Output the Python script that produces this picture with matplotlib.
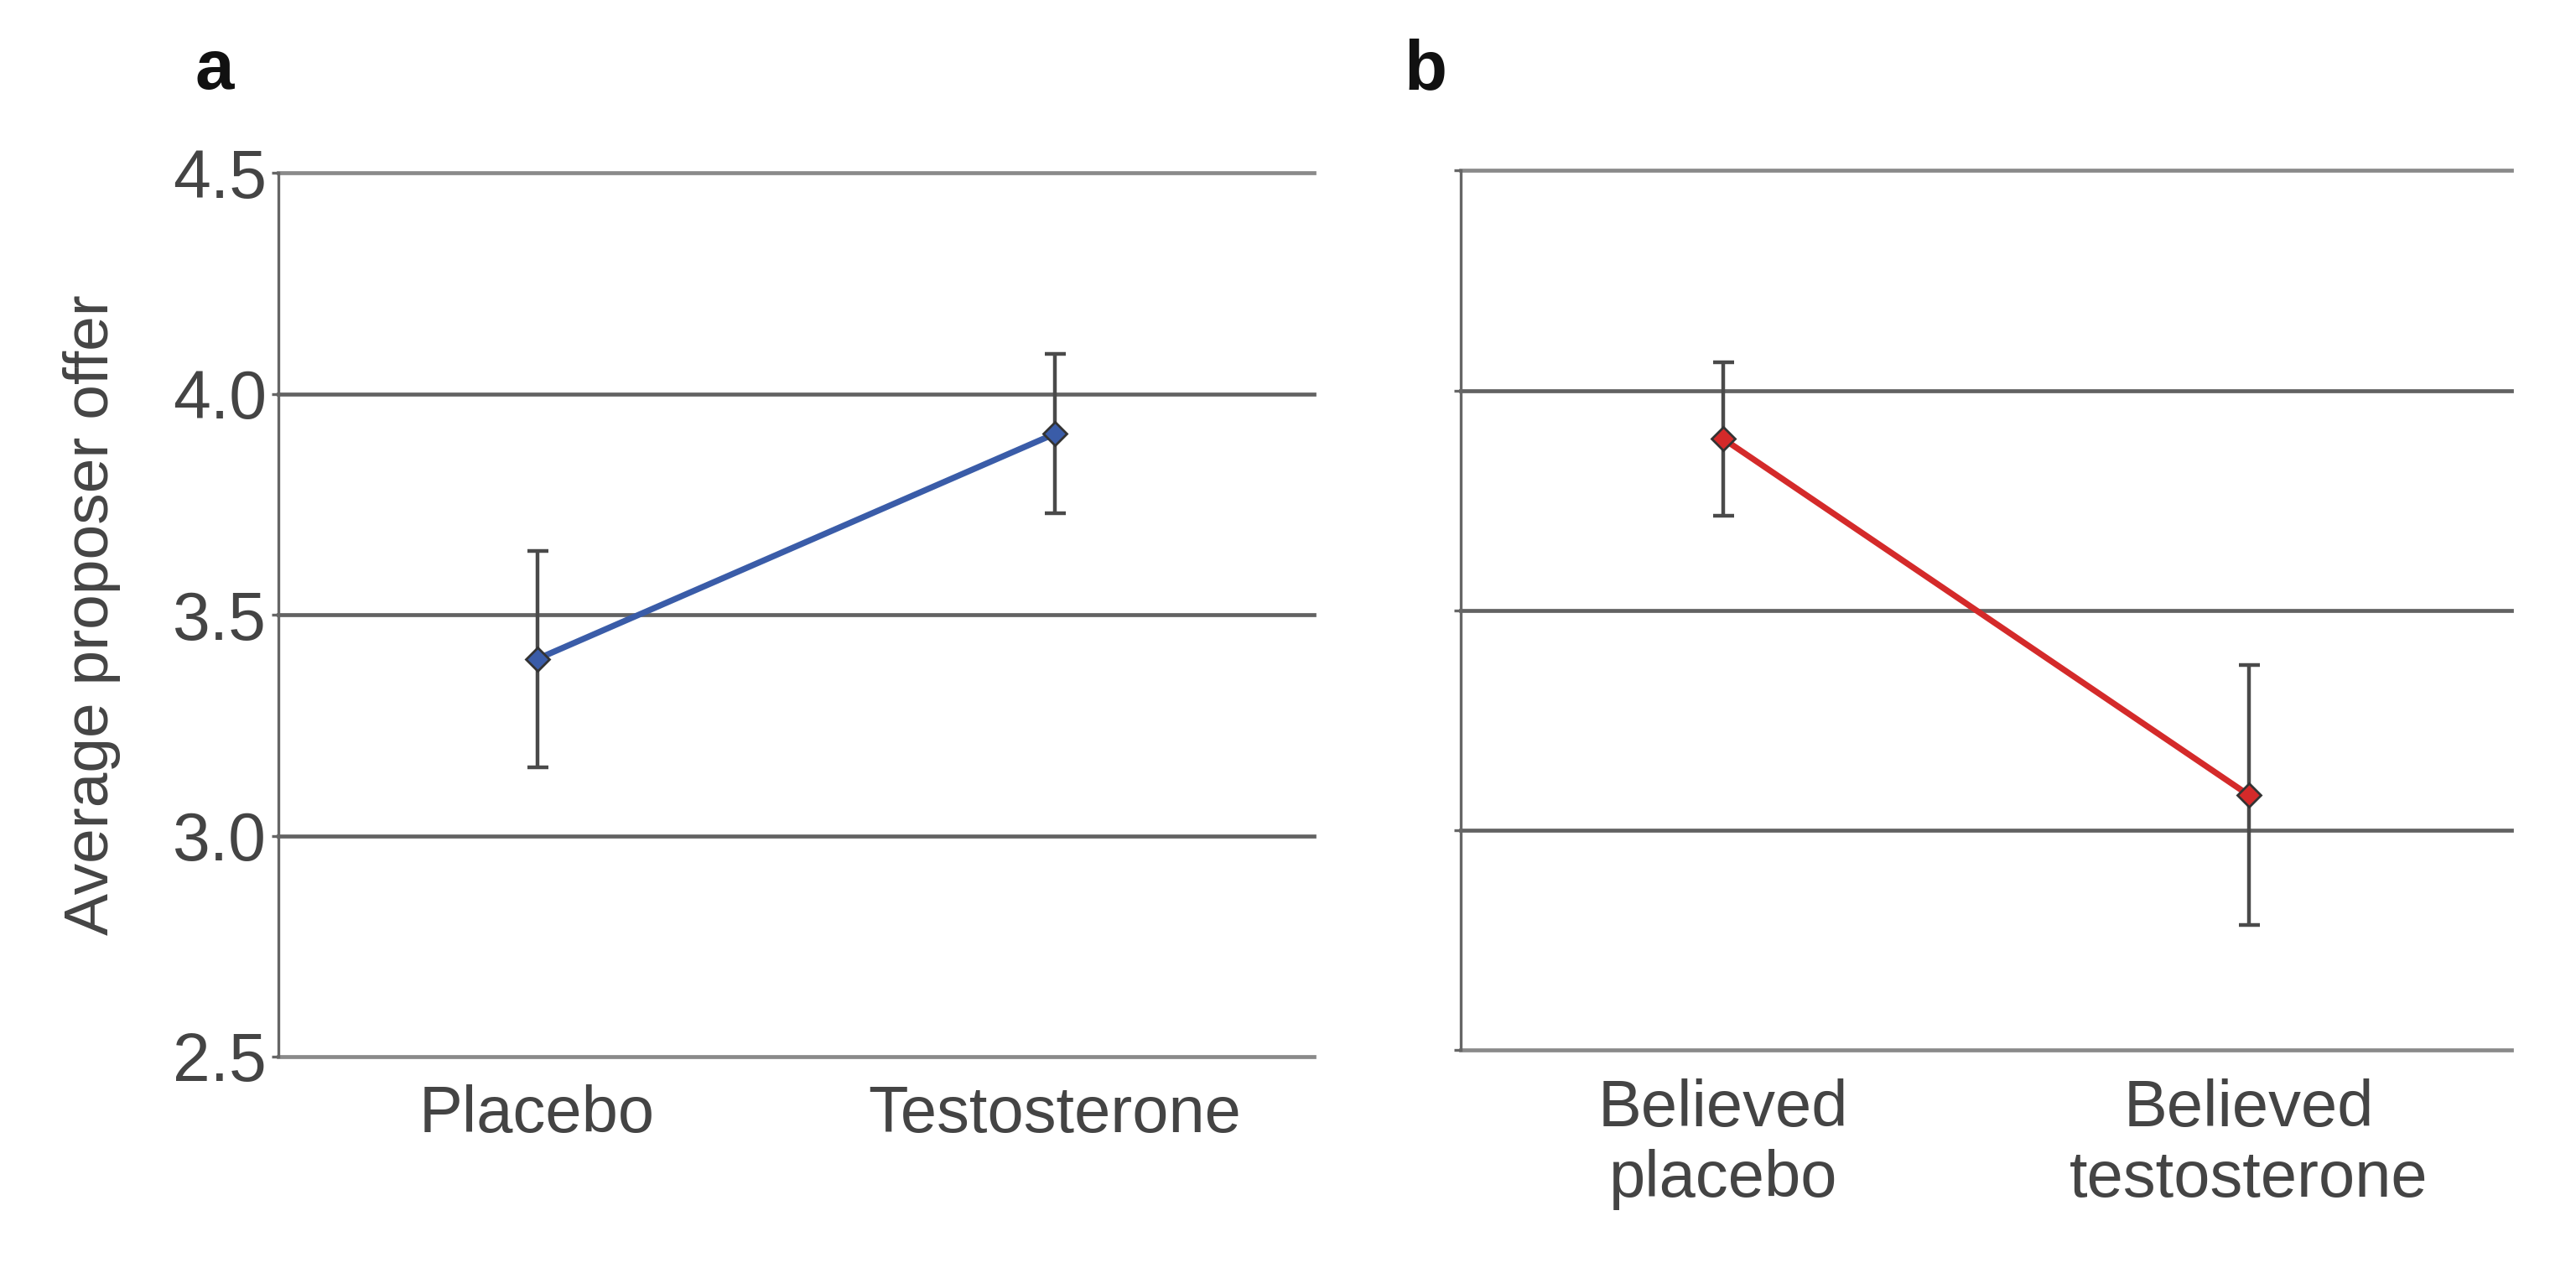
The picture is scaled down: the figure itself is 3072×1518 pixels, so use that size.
import matplotlib
matplotlib.use("Agg")
import matplotlib.pyplot as plt

# panel a: actual treatment
cats_a = ["Placebo", "Testosterone"]
mean_a = [3.40, 3.91]
err_a = [0.245, 0.18]

# panel b: believed treatment
cats_b = ["Believed\nplacebo", "Believed\ntestosterone"]
mean_b = [3.89, 3.08]
err_b = [0.175, 0.295]

yticks = [2.5, 3.0, 3.5, 4.0, 4.5]
ytick_labels = ["2.5", "3.0", "3.5", "4.0", "4.5"]

plt.rcParams["font.family"] = ["Liberation Sans", "DejaVu Sans"]

fig = plt.figure(figsize=(15.36, 7.59), dpi=200)
ax_a = fig.add_axes([0.108, 0.170, 0.402, 0.694])
ax_b = fig.add_axes([0.567, 0.175, 0.408, 0.691])


def style_axis(ax, show_labels):
    ax.set_xlim(-0.5, 1.5)
    ax.set_ylim(2.5, 4.5)
    ax.set_yticks(yticks)
    if show_labels:
        ax.set_yticklabels(ytick_labels, fontsize=29, color="#444444")
    else:
        ax.set_yticklabels([])
    for y in yticks:
        c = "#8a8a8a" if y in (2.5, 4.5) else "#626262"
        ax.axhline(y, color=c, lw=1.7, zorder=1, clip_on=False)
    for side in ["top", "right", "bottom"]:
        ax.spines[side].set_visible(False)
    ax.spines["left"].set_color("#666666")
    ax.spines["left"].set_linewidth(1.2)
    ax.tick_params(axis="y", length=3, width=1.2, color="#666666", pad=2)
    ax.tick_params(axis="x", length=0, pad=12, labelsize=28, labelcolor="#444444")


def draw_series(ax, cats, means, errs, color):
    xs = list(range(len(cats)))
    ax.plot(xs, means, color=color, lw=2.6, zorder=3)
    ax.errorbar(xs, means, yerr=errs, fmt="none", ecolor="#4a4a4a",
                elinewidth=1.6, capsize=4.5, capthick=1.6, zorder=2)
    ax.plot(xs, means, linestyle="none", marker="D", markersize=7,
            markerfacecolor=color, markeredgecolor="#333333",
            markeredgewidth=1.0, zorder=4)
    ax.set_xticks(xs)
    ax.set_xticklabels(cats, linespacing=1.2)


style_axis(ax_a, True)
draw_series(ax_a, cats_a, mean_a, err_a, "#3a5ca8")
ax_a.set_ylabel("Average proposer offer", fontsize=27, color="#444444")
ax_a.yaxis.set_label_coords(-0.152, 0.5)

style_axis(ax_b, False)
draw_series(ax_b, cats_b, mean_b, err_b, "#d42a2a")

fig.text(0.0756, 0.93, "a", fontsize=30, fontweight="bold", color="#111111")
fig.text(0.545, 0.93, "b", fontsize=30, fontweight="bold", color="#111111")

fig.savefig("out.png", dpi=200)
